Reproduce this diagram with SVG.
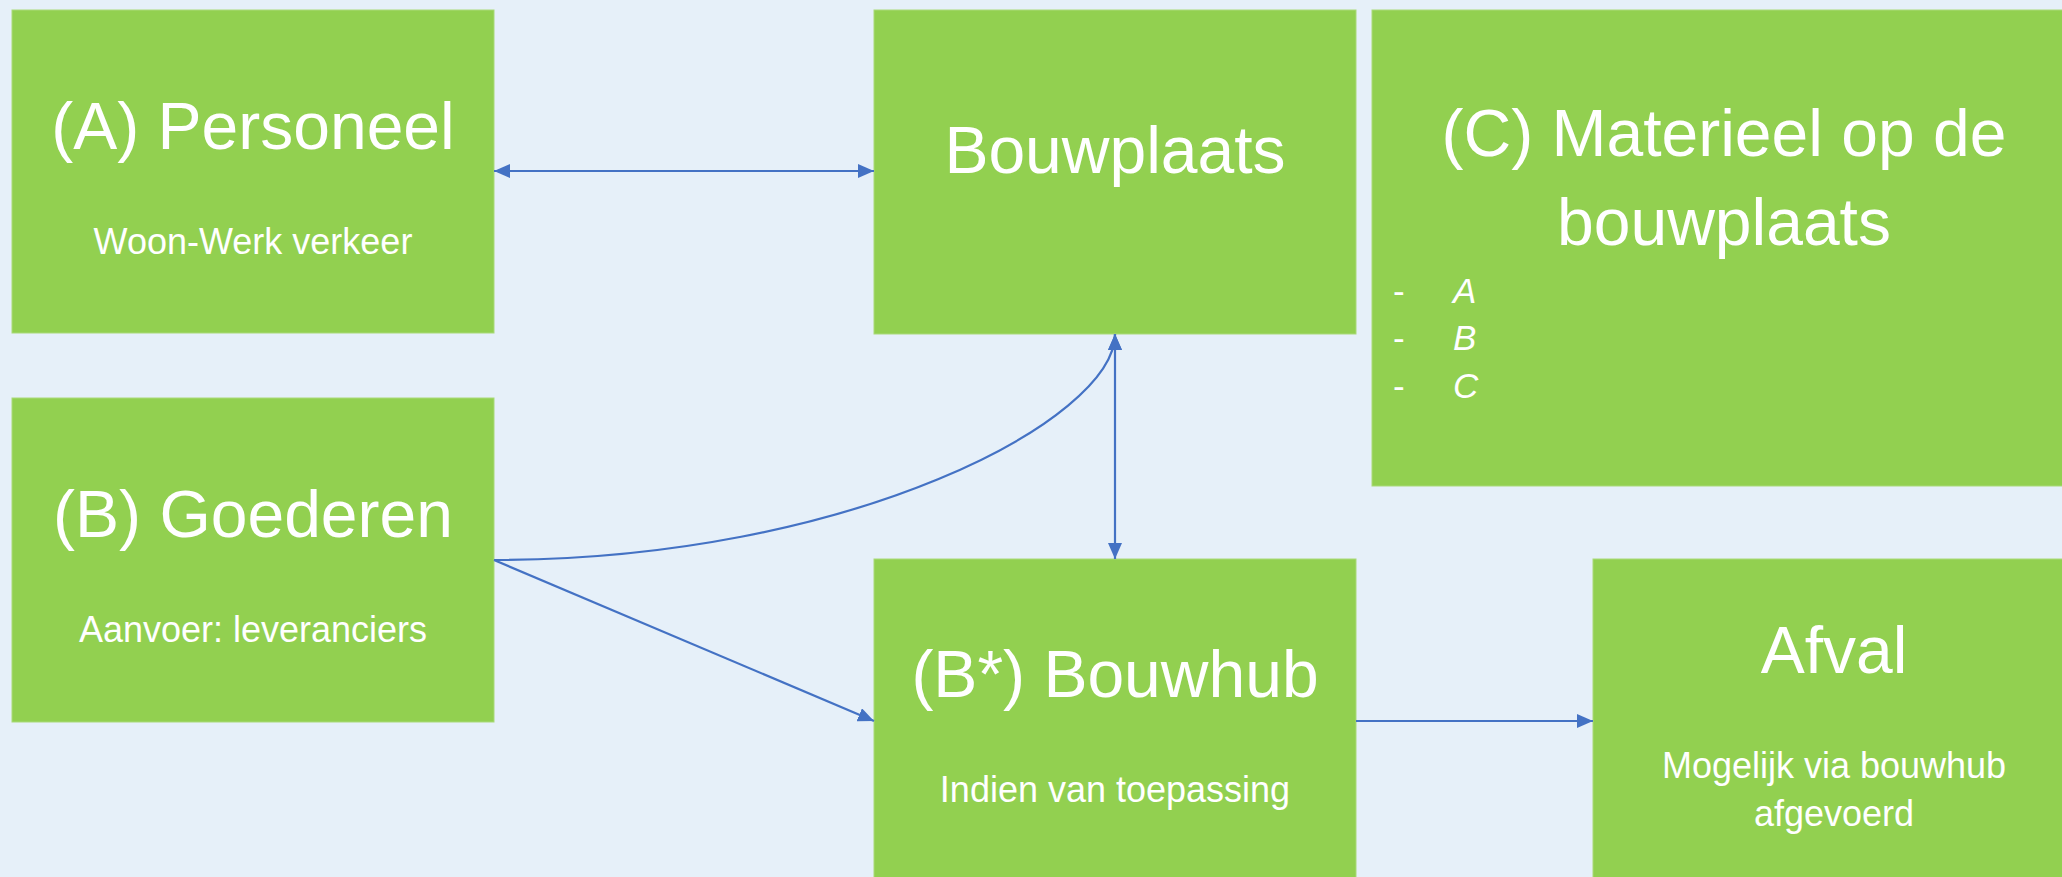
<svg xmlns="http://www.w3.org/2000/svg" width="2062" height="877" viewBox="0 0 2062 877">
<style>
.box{fill:#92D050;stroke:#A9DA78;stroke-width:1}
.t{font-family:"Liberation Sans",Arial,sans-serif;fill:#FFFFFF;text-anchor:middle}
.big{font-size:66px}
.small{font-size:36px}
.li{font-family:"Liberation Sans",Arial,sans-serif;fill:#FFFFFF;font-size:35px}
.conn{fill:none;stroke:#4472C4;stroke-width:2.2}
</style>
<defs>
<marker id="arr" viewBox="0 0 16 14" refX="16" refY="7" markerWidth="16" markerHeight="14" markerUnits="userSpaceOnUse" orient="auto-start-reverse">
<path d="M0,0 L16,7 L0,14 z" fill="#4472C4"/>
</marker>
</defs>
<rect width="2062" height="877" fill="#E6F0F9"/>
<g id="node-personeel">
<rect class="box" x="12" y="10" width="482" height="323"/>
<text class="t big" x="253" y="149">(A) Personeel</text>
<text class="t small" x="253" y="254">Woon-Werk verkeer</text>
</g>
<g id="node-goederen">
<rect class="box" x="12" y="398" width="482" height="324"/>
<text class="t big" x="253" y="537">(B) Goederen</text>
<text class="t small" x="253" y="642">Aanvoer: leveranciers</text>
</g>
<g id="node-bouwplaats">
<rect class="box" x="874" y="10" width="482" height="324"/>
<text class="t big" x="1115" y="173">Bouwplaats</text>
</g>
<g id="node-materieel">
<rect class="box" x="1372" y="10" width="700" height="476"/>
<text class="t big" x="1724" y="156">(C) Materieel op de</text>
<text class="t big" x="1724" y="245">bouwplaats</text>
<text class="li" x="1393" y="303">-</text>
<text class="li" x="1453" y="303" font-style="italic">A</text>
<text class="li" x="1393" y="350">-</text>
<text class="li" x="1453" y="350" font-style="italic">B</text>
<text class="li" x="1393" y="398">-</text>
<text class="li" x="1453" y="398" font-style="italic">C</text>
</g>
<g id="node-bouwhub">
<rect class="box" x="874" y="559" width="482" height="330"/>
<text class="t big" x="1115" y="697">(B*) Bouwhub</text>
<text class="t small" x="1115" y="802">Indien van toepassing</text>
</g>
<g id="node-afval">
<rect class="box" x="1593" y="559" width="480" height="330"/>
<text class="t big" x="1834" y="673">Afval</text>
<text class="t small" x="1834" y="778">Mogelijk via bouwhub</text>
<text class="t small" x="1834" y="826">afgevoerd</text>
</g>
<g id="connectors">
<line class="conn" x1="494" y1="171" x2="874" y2="171" marker-start="url(#arr)" marker-end="url(#arr)"/>
<line class="conn" x1="1115" y1="334" x2="1115" y2="559" marker-start="url(#arr)" marker-end="url(#arr)"/>
<path class="conn" d="M494,560 C850,560 1115,420 1115,334" marker-end="url(#arr)"/>
<line class="conn" x1="494" y1="560" x2="874" y2="721" marker-end="url(#arr)"/>
<line class="conn" x1="1356" y1="721" x2="1593" y2="721" marker-end="url(#arr)"/>
</g>
</svg>
